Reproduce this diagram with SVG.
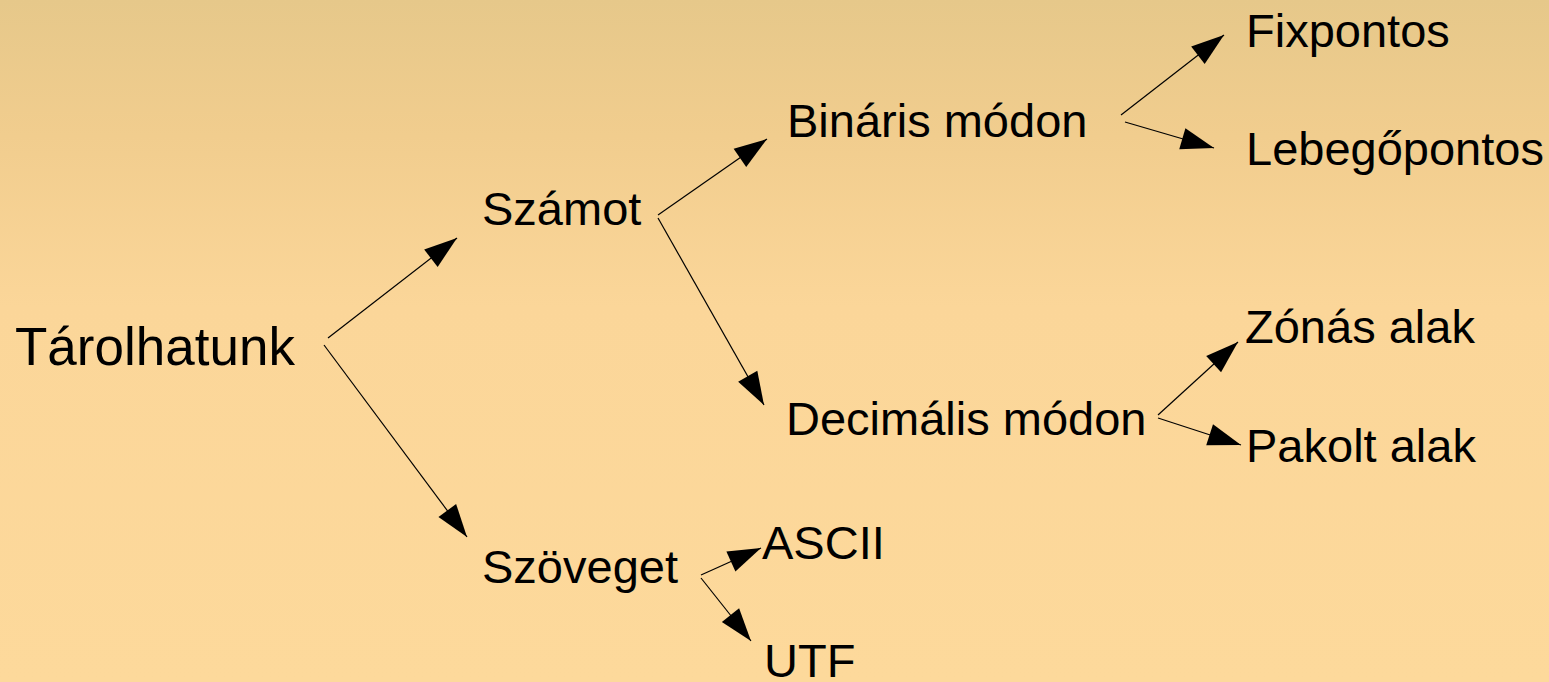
<svg xmlns="http://www.w3.org/2000/svg" width="1549" height="682" viewBox="0 0 1549 682">
<defs>
<linearGradient id="bg" x1="0" y1="0" x2="0" y2="1">
<stop offset="0" stop-color="#E6C88A"/>
<stop offset="0.2" stop-color="#F1CD8E"/>
<stop offset="0.45" stop-color="#FBD699"/>
<stop offset="1" stop-color="#FDD99B"/>
</linearGradient>
<marker id="ah" markerUnits="userSpaceOnUse" markerWidth="35" markerHeight="24" refX="34" refY="12" orient="auto" viewBox="0 0 35 24">
<path d="M1,1 L34,12 L1,23 z" fill="#000"/>
</marker>
<style>
text{font-family:"Liberation Sans",Arial,sans-serif;font-size:47px;fill:#000}
.big{font-size:53px}
.c line{stroke:#000;stroke-width:1.2;marker-end:url(#ah)}
</style>
</defs>
<rect width="1549" height="682" fill="url(#bg)"/>
<g id="connectors" class="c">
<line x1="328" y1="338" x2="457" y2="238"/>
<line x1="324" y1="345" x2="467" y2="537"/>
<line x1="658" y1="215" x2="767" y2="139"/>
<line x1="658" y1="218" x2="764" y2="405"/>
<line x1="1121" y1="115" x2="1224" y2="35"/>
<line x1="1125" y1="122" x2="1214" y2="148"/>
<line x1="1158" y1="415" x2="1238" y2="342"/>
<line x1="1158" y1="418" x2="1241" y2="445"/>
<line x1="701" y1="575" x2="761" y2="548"/>
<line x1="701" y1="578" x2="751" y2="641"/>
</g>
<g id="n-tarolhatunk"><text class="big" x="15" y="365">Tárolhatunk</text></g>
<g id="n-szamot"><text x="482" y="225">Számot</text></g>
<g id="n-szoveget"><text x="482" y="583">Szöveget</text></g>
<g id="n-binaris"><text x="787" y="137">Bináris módon</text></g>
<g id="n-decimalis"><text x="786" y="435">Decimális módon</text></g>
<g id="n-fixpontos"><text x="1246" y="47">Fixpontos</text></g>
<g id="n-lebegopontos"><text x="1246" y="165">Lebegőpontos</text></g>
<g id="n-zonas"><text x="1245" y="343">Zónás alak</text></g>
<g id="n-pakolt"><text x="1246" y="462">Pakolt alak</text></g>
<g id="n-ascii"><text x="762" y="559">ASCII</text></g>
<g id="n-utf"><text x="764" y="677">UTF</text></g>
</svg>
